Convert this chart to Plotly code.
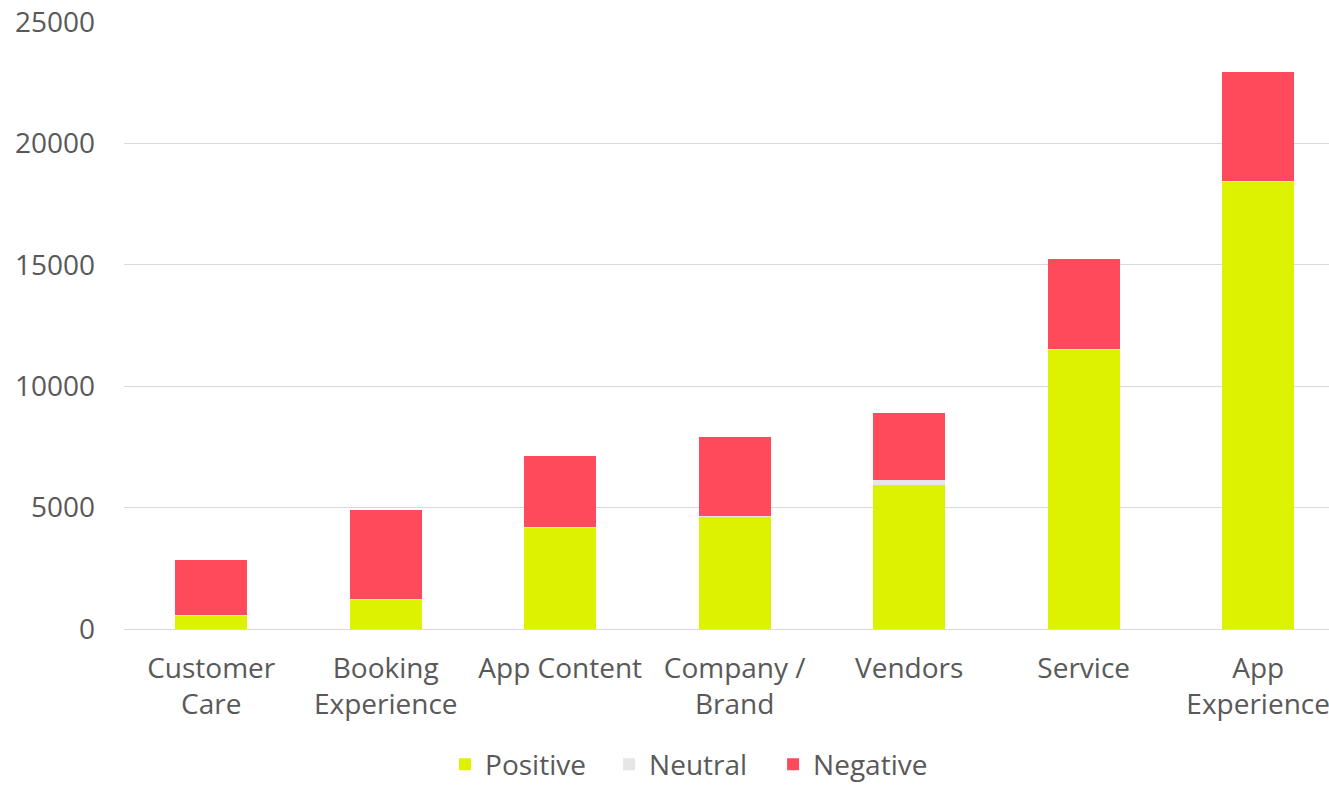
import plotly.graph_objects as go

# Mention counts by topic and sentiment
categories = ["Customer<br>Care", "Booking<br>Experience", "App Content",
              "Company /<br>Brand", "Vendors", "Service", "App<br>Experience"]
positive = [540, 1200, 4180, 4620, 5920, 11530, 18440]
neutral = [20, 20, 20, 20, 220, 20, 20]
negative = [2290, 3680, 2940, 3270, 2760, 3700, 4470]

y_ticks = [0, 5000, 10000, 15000, 20000, 25000]

POS_COLOR = "#DCF200"
NEU_COLOR = "#E6E6E6"
NEG_COLOR = "#FF4A5C"
TEXT_COLOR = "#595959"
GRID_COLOR = "#D9D9D9"
FONT = "Open Sans"
FS = 28

fig = go.Figure()
for name, vals, color in [("Positive", positive, POS_COLOR),
                          ("Neutral", neutral, NEU_COLOR),
                          ("Negative", negative, NEG_COLOR)]:
    fig.add_trace(go.Bar(
        x=categories, y=vals, name=name,
        marker=dict(color=color, line=dict(width=0)),
        width=0.413,
    ))

fig.update_layout(
    barmode="stack",
    width=1329, height=785,
    margin=dict(l=124, r=0, t=22, b=156),
    paper_bgcolor="white", plot_bgcolor="white",
    font=dict(family=FONT, size=FS, color=TEXT_COLOR),
    showlegend=True,
    legend=dict(
        orientation="h",
        traceorder="normal",
        xref="container", yref="container",
        x=0.52, xanchor="center",
        y=0.026, yanchor="middle",
        entrywidth=119, entrywidthmode="pixels",
        font=dict(family=FONT, size=FS, color=TEXT_COLOR),
        itemsizing="constant",
        bgcolor="rgba(0,0,0,0)",
    ),
    xaxis=dict(
        type="category",
        range=[-0.5, 6.406],
        showgrid=False, zeroline=False, showline=False,
        ticks="", ticklabelstandoff=20,
        tickfont=dict(family=FONT, size=FS, color=TEXT_COLOR),
    ),
    yaxis=dict(
        range=[0, 25000],
        tickvals=y_ticks,
        ticktext=[str(v) for v in y_ticks],
        showgrid=True, gridcolor=GRID_COLOR, gridwidth=1.3,
        zeroline=True, zerolinecolor=GRID_COLOR, zerolinewidth=1.3,
        showline=False, ticks="",
        ticklabelstandoff=28,
        tickfont=dict(family=FONT, size=FS, color=TEXT_COLOR),
    ),
)

fig.write_html("out.html")
